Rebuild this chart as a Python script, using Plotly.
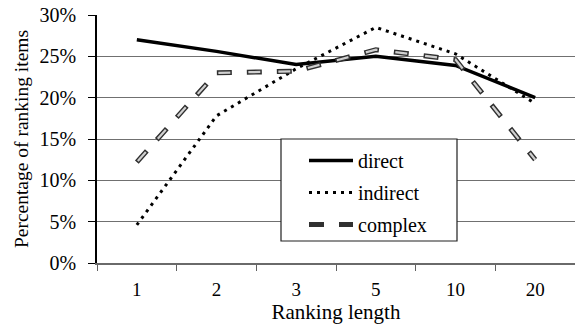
import plotly.graph_objects as go

# Ranking lengths (categorical x axis)
ranking_length = ["1", "2", "3", "5", "10", "20"]

# Share of ranking items per recommendation type
direct = [0.270, 0.256, 0.240, 0.250, 0.239, 0.200]
indirect = [0.046, 0.178, 0.235, 0.285, 0.253, 0.193]
complex_ = [0.122, 0.230, 0.232, 0.258, 0.246, 0.125]

y_ticks = [0, 0.05, 0.10, 0.15, 0.20, 0.25, 0.30]

FONT = "Times New Roman, Liberation Serif, Tinos, DejaVu Serif, serif"

fig = go.Figure()

fig.add_trace(go.Scatter(
    x=ranking_length, y=direct, name="direct", mode="lines",
    line=dict(color="black", width=3.5), legendgroup="a",
))
fig.add_trace(go.Scatter(
    x=ranking_length, y=indirect, name="indirect", mode="lines",
    line=dict(color="black", width=3, dash="3px,5px"), legendgroup="b",
))
# Outlined dashes: dark dashed stroke with a light dashed core on top
fig.add_trace(go.Scatter(
    x=ranking_length, y=complex_, name="complex", mode="lines",
    line=dict(color="#303030", width=5, dash="15px,15px"),
    legendgroup="c", showlegend=True,
))
fig.add_trace(go.Scatter(
    x=ranking_length, y=complex_, name="complex", mode="lines",
    line=dict(color="#d0d0d0", width=2.2, dash="0px,1.5px,12px,16.5px"),
    legendgroup="c", showlegend=False, hoverinfo="skip",
))

# Legend frame
fig.add_shape(
    type="rect", xref="paper", yref="paper",
    x0=(281 - 97) / 478, x1=(457 - 97) / 478,
    y0=(263 - 241) / 248, y1=(263 - 139) / 248,
    line=dict(color="#202020", width=1.2), fillcolor="white", layer="above",
)

fig.update_layout(
    width=575, height=325,
    margin=dict(l=97, r=0, t=15, b=62),
    paper_bgcolor="white", plot_bgcolor="white",
    font=dict(family=FONT, size=20, color="black"),
    showlegend=True,
    legend=dict(
        x=(304 - 97) / 478, y=(263 - 141) / 248, xanchor="left", yanchor="top",
        bgcolor="rgba(0,0,0,0)", borderwidth=0,
        font=dict(family=FONT, size=20, color="black"),
        itemwidth=44, traceorder="grouped", tracegroupgap=3,
    ),
    xaxis=dict(
        type="category",
        tickson="boundaries",
        ticks="outside", ticklen=6, tickcolor="#606060", tickwidth=1,
        showline=True, linecolor="#6a6a6a", linewidth=1.5,
        showgrid=False, zeroline=False,
        tickfont=dict(family=FONT, size=19),
        ticklabelstandoff=8,
        title=dict(text="Ranking length", font=dict(family=FONT, size=21), standoff=0),
        range=[-0.5, 5.5],
    ),
    yaxis=dict(
        range=[0, 0.30],
        tickvals=y_ticks, tickformat=".0%",
        ticks="outside", ticklen=7, tickcolor="black", tickwidth=1,
        showline=True, linecolor="black", linewidth=1.5,
        showgrid=True, gridcolor="#707070", gridwidth=1.3,
        zeroline=False,
        tickfont=dict(family=FONT, size=20),
        ticklabelstandoff=8,
        title=dict(text="Percentage of ranking items", font=dict(family=FONT, size=19.5), standoff=6),
    ),
)

fig.write_html("out.html")
